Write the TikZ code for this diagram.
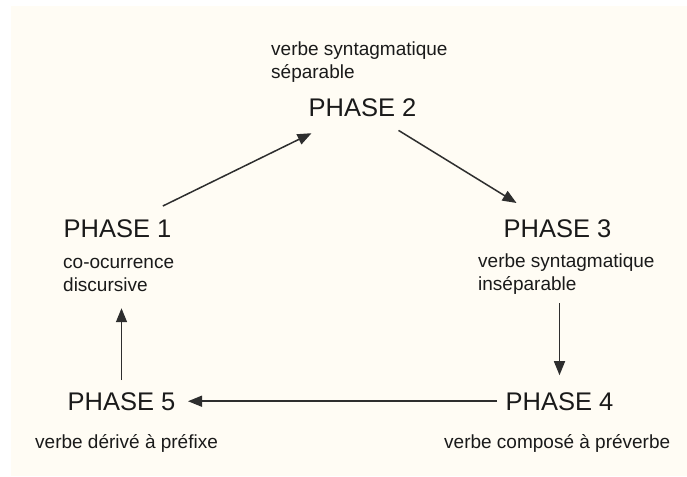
\documentclass[tikz,border=0pt]{standalone}
\usepackage{fontspec}
\setmainfont{Liberation Sans}
\usetikzlibrary{arrows.meta}
\definecolor{cream}{HTML}{FFFCF4}
\definecolor{ink}{HTML}{1A1A1A}
\definecolor{arrowgray}{HTML}{2E2E2E}
\begin{document}
\begin{tikzpicture}[x=1pt,y=-1pt,
  phase/.style={inner sep=0pt, anchor=base, text=ink, font=\fontsize{25.5}{30}\selectfont},
  gloss/.style={inner sep=0pt, anchor=base west, align=left, text=ink, font=\fontsize{19}{23}\selectfont},
  arr/.style={draw=arrowgray, line width=1.5pt, -{Triangle[length=14pt,width=11pt]}}]
\useasboundingbox (0,0) rectangle (687,476);
\fill[white] (0,0) rectangle (687,476);
\fill[cream] (11,6) rectangle (687,476);
% phases
\node[phase] (p2) at (362.5,117) {PHASE 2};
\node[phase] (p1) at (117.5,237) {PHASE 1};
\node[phase] (p3) at (557.5,237) {PHASE 3};
\node[phase] (p4) at (559.5,410) {PHASE 4};
\node[phase] (p5) at (121.5,410) {PHASE 5};
% glosses (multi-line: base = last line)
\node[gloss] (s2) at (271,79) {verbe syntagmatique\\séparable};
\node[gloss] (s1) at (63,291) {co-ocurrence\\discursive};
\node[gloss] (s3) at (478,290) {verbe syntagmatique\\inséparable};
\node[gloss] (s4) at (444,448) {verbe composé à préverbe};
\node[gloss] (s5) at (35,448) {verbe dérivé à préfixe};
% arrows
\draw[arr, shorten <=50.5pt, shorten >=56.8pt] (p1.center) -- (p2.center);
\draw[arr, shorten <=42.3pt, shorten >=48.1pt] (p2.center) -- (p3.center);
\draw[arr, shorten <=75pt, shorten >=26pt] (p4.center |- p3.center) -- (p4.center);
\draw[arr, shorten <=62.5pt, shorten >=66.5pt] (p4.center) -- (p5.center);
\draw[arr, shorten <=21pt, shorten >=80pt] (p5.center) -- (p5.center |- p1.center);
\end{tikzpicture}
\end{document}
